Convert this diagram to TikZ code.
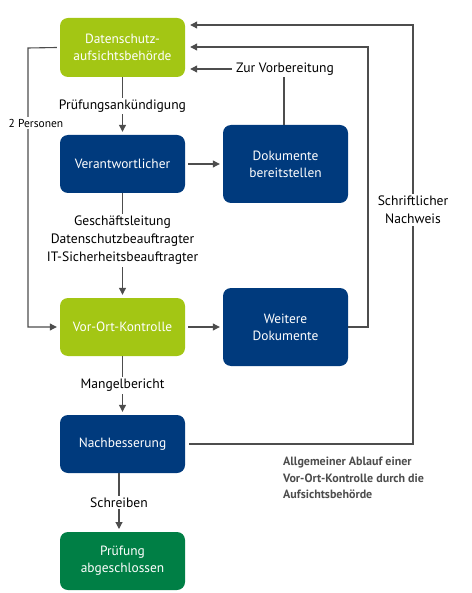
\documentclass[tikz,border=0pt]{standalone}
\usepackage{fontspec}
\setmainfont{PT Sans}
\usetikzlibrary{arrows.meta,calc}
\definecolor{lime}{HTML}{A3C614}
\definecolor{navy}{HTML}{003A7D}
\definecolor{dgreen}{HTML}{007F45}
\definecolor{lgray}{HTML}{4D4D4D}
\tikzset{
  box/.style={rounded corners=8pt, minimum width=125pt, text=white, align=center, font=\fontsize{13.4}{17}\selectfont, inner sep=0pt},
  arr/.style={draw=lgray, line width=1.1pt, -{Triangle[length=7pt,width=7pt]}},
  ln/.style={draw=lgray, line width=1.1pt},
  lab/.style={fill=white, text=black, align=center, font=\fontsize{13.6}{18}\selectfont, inner sep=2pt},
}
\begin{document}
\begin{tikzpicture}[x=1pt,y=-1pt]
\useasboundingbox (0,0) rectangle (471,593);
\node[box, fill=lime, minimum height=59pt] (ds) at (122.5,47.5) {Datenschutz-\\aufsichtsbehörde};
\node[box, fill=navy, minimum height=58pt] (ver) at (122.5,164) {Verantwortlicher};
\node[box, fill=navy, minimum height=78pt] (dok) at (285.5,164) {Dokumente\\bereitstellen};
\node[box, fill=lime, minimum height=58pt] (vok) at (122.5,327) {Vor-Ort-Kontrolle};
\node[box, fill=navy, minimum height=78pt] (wei) at (285.5,327) {Weitere\\Dokumente};
\node[box, fill=navy, minimum height=58pt] (nach) at (122.5,444) {Nachbesserung};
\node[box, fill=dgreen, minimum height=58pt] (pr) at (122.5,561) {Prüfung\\abgeschlossen};

% vertical flow
\draw[arr, shorten >=3pt] (ds.south) -- node[lab] (l1) {Prüfungsankündigung} (ver.north);
\draw[arr, shorten >=3pt] (ver.south) -- node[lab, pos=0.45] (l2) {Geschäftsleitung\\Datenschutzbeauftragter\\IT-Sicherheitsbeauftragter} (vok.north);
\draw[arr, shorten >=3pt] (vok.south) -- node[lab] (l3) {Mangelbericht} (nach.north);
\coordinate (n1) at (119,473);
\coordinate (n2) at (119,532);
\draw[arr, shorten >=3pt] (n1) -- node[lab] (l4) {Schreiben} (n2);

% horizontal arrows
\draw[arr, shorten <=3pt, shorten >=3pt] (ver.east) -- (dok.west);
\draw[arr, shorten <=3pt, shorten >=3pt] (vok.east) -- (wei.west);

% Zur Vorbereitung
\node[lab] (zv) at (285,69) {Zur Vorbereitung};
\draw[arr, shorten <=2pt, shorten >=5pt] (zv.west) -- (zv.west -| ds.east);
\draw[ln] (zv.south -| 284,0) -- (dok.north -| 284,0);

% right loops
\coordinate (c1) at (368,47);
\draw[arr, shorten >=5pt] (wei.east) -| (c1) -- (c1 -| ds.east);
\coordinate (c2) at (413,25);
\draw[arr, shorten >=5pt] ([xshift=4pt]nach.east) -| (c2) -- (c2 -| ds.east);
\node[lab] (sn) at (413,210) {Schriftlicher\\Nachweis};

% left loop
\coordinate (c3) at (28,48);
\draw[arr, shorten >=3pt] ([xshift=-3pt]ds.west) -- (c3) |- (vok.west);
\node[lab] (zp) at (36,123) {\fontsize{11.5}{13}\selectfont 2 Personen};

% caption
\node[anchor=north west, align=left, text=lgray, font=\bfseries\fontsize{12}{16.5}\selectfont, inner sep=0pt] (cap) at (283,457) {Allgemeiner Ablauf einer\\Vor-Ort-Kontrolle durch die\\Aufsichtsbehörde};
\end{tikzpicture}
\end{document}
